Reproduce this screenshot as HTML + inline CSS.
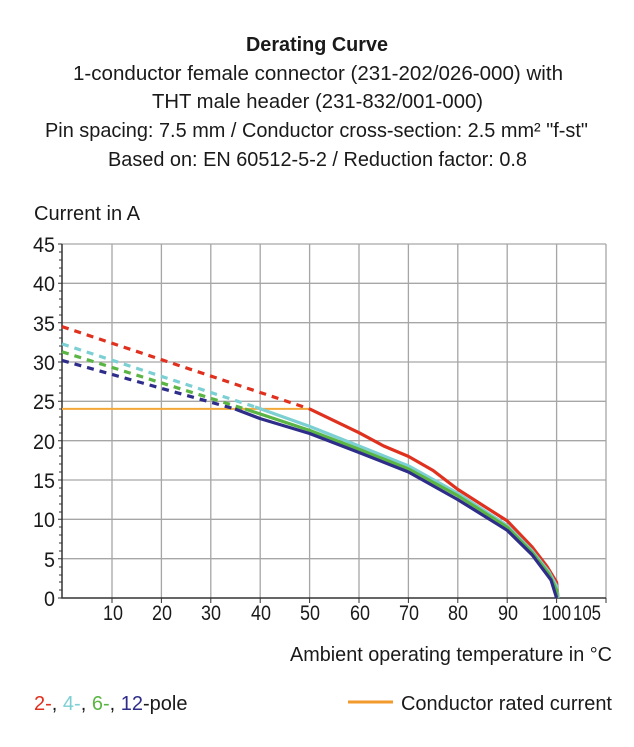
<!DOCTYPE html>
<html><head><meta charset="utf-8"><style>
body{margin:0;background:#fff}
svg text{font-family:"Liberation Sans Narrow","Liberation Sans",sans-serif;fill:#1a1a1a}
</style></head><body>
<svg width="634" height="742" viewBox="0 0 634 742" xmlns="http://www.w3.org/2000/svg">
<g font-size="20">
<text x="246" y="51" font-weight="bold" textLength="142" lengthAdjust="spacingAndGlyphs">Derating Curve</text>
<text x="73" y="80" textLength="490" lengthAdjust="spacingAndGlyphs">1-conductor female connector (231-202/026-000) with</text>
<text x="152" y="108" textLength="331" lengthAdjust="spacingAndGlyphs">THT male header (231-832/001-000)</text>
<text x="45" y="137" textLength="543" lengthAdjust="spacingAndGlyphs">Pin spacing: 7.5 mm / Conductor cross-section: 2.5 mm² "f-st"</text>
<text x="108" y="166" textLength="419" lengthAdjust="spacingAndGlyphs">Based on: EN 60512-5-2 / Reduction factor: 0.8</text>
</g>
<text x="34" y="220" font-size="20" textLength="106" lengthAdjust="spacingAndGlyphs">Current in A</text>
<g stroke="#a6a6a6" stroke-width="1.3" fill="none">
<path d="M112 244V598M161.4 244V598M210.8 244V598M260.2 244V598M309.6 244V598M359 244V598M408.4 244V598M457.8 244V598M507.2 244V598M556.6 244V598M606 244V598"/>
<path d="M62 244H606M62 283.3H606M62 322.7H606M62 362H606M62 401.3H606M62 440.7H606M62 480H606M62 519.3H606M62 558.7H606"/>
</g>
<path d="M62 244V598H606" stroke="#333" stroke-width="1.5" fill="none"/>
<g stroke="#333" stroke-width="1">
<path d="M58 244H62M58 283.3H62M58 322.7H62M58 362H62M58 401.3H62M58 440.7H62M58 480H62M58 519.3H62M58 558.7H62M58 598H62"/>
<path d="M59 252H62M59 260H62M59 268H62M59 276H62M59 291H62M59 299H62M59 307H62M59 315H62M59 330H62M59 338H62M59 346H62M59 354H62M59 370H62M59 378H62M59 386H62M59 393H62M59 409H62M59 417H62M59 425H62M59 433H62M59 448H62M59 456H62M59 464H62M59 472H62M59 488H62M59 496H62M59 504H62M59 512H62M59 527H62M59 535H62M59 543H62M59 551H62M59 567H62M59 575H62M59 582H62M59 590H62"/>
<path d="M112 598V603M161.4 598V603M210.8 598V603M260.2 598V603M309.6 598V603M359 598V603M408.4 598V603M457.8 598V603M507.2 598V603M556.6 598V603M606 598V603"/>
</g>
<g font-size="21" text-anchor="end">
<text x="55" y="252" textLength="22" lengthAdjust="spacingAndGlyphs">45</text><text x="55" y="291" textLength="22" lengthAdjust="spacingAndGlyphs">40</text><text x="55" y="331" textLength="22" lengthAdjust="spacingAndGlyphs">35</text><text x="55" y="370" textLength="22" lengthAdjust="spacingAndGlyphs">30</text><text x="55" y="409" textLength="22" lengthAdjust="spacingAndGlyphs">25</text><text x="55" y="449" textLength="22" lengthAdjust="spacingAndGlyphs">20</text><text x="55" y="488" textLength="22" lengthAdjust="spacingAndGlyphs">15</text><text x="55" y="527" textLength="22" lengthAdjust="spacingAndGlyphs">10</text><text x="55" y="567" textLength="11" lengthAdjust="spacingAndGlyphs">5</text><text x="55" y="606" textLength="11" lengthAdjust="spacingAndGlyphs">0</text>
</g>
<g font-size="21">
<text x="103" y="620" textLength="20" lengthAdjust="spacingAndGlyphs">10</text><text x="152" y="620" textLength="20" lengthAdjust="spacingAndGlyphs">20</text><text x="201" y="620" textLength="20" lengthAdjust="spacingAndGlyphs">30</text><text x="251" y="620" textLength="20" lengthAdjust="spacingAndGlyphs">40</text><text x="300" y="620" textLength="20" lengthAdjust="spacingAndGlyphs">50</text><text x="350" y="620" textLength="20" lengthAdjust="spacingAndGlyphs">60</text><text x="399" y="620" textLength="20" lengthAdjust="spacingAndGlyphs">70</text><text x="448" y="620" textLength="20" lengthAdjust="spacingAndGlyphs">80</text><text x="498" y="620" textLength="20" lengthAdjust="spacingAndGlyphs">90</text><text x="542" y="620" textLength="29" lengthAdjust="spacingAndGlyphs">100</text><text x="573" y="620" textLength="28" lengthAdjust="spacingAndGlyphs">105</text>
</g>
<text x="290" y="661" font-size="20" textLength="322" lengthAdjust="spacingAndGlyphs">Ambient operating temperature in °C</text>
<g fill="none" stroke-width="3.2" stroke-linejoin="round">
<path d="M62 408.9H309.6" stroke="#f5a83a" stroke-width="2"/>
<path d="M62 326.6L309.6 408.9" stroke="#e0301e" stroke-dasharray="7 6"/>
<path d="M62 343.9L255 406.9" stroke="#7ccfd3" stroke-dasharray="7 6"/>
<path d="M62 351.8L245 409" stroke="#5bb544" stroke-dasharray="7 6"/>
<path d="M62 360.4L235 409" stroke="#2e2d8a" stroke-dasharray="7 6"/>
<path d="M309.6 408.9L359 432.7L383.7 446L408.4 456.4L433.1 470.5L457.8 489.4L507.2 520.9L532 546.8L547 566.5L556.6 582.3L558 598" stroke="#e0301e"/>
<path d="M255 406.9L309.6 426.4L359 446L408.4 465.8L457.8 493.3L507.2 525.6L532 550.8L549 572L556.6 586L558 598" stroke="#7ccfd3"/>
<path d="M245 409L309.6 430.4L359 449.3L408.4 468.9L457.8 495.7L507.2 527.2L532 552.4L549 574L556.6 590L557 598" stroke="#5bb544"/>
<path d="M235 409L260.2 418.6L309.6 433.5L359 452.5L408.4 472L457.8 499.6L507.2 530.3L532 554.7L551 580L556.6 598" stroke="#2e2d8a"/>
</g>
<text x="34" y="710" font-size="20"><tspan fill="#e0301e">2-</tspan>, <tspan fill="#7ccfd3">4-</tspan>, <tspan fill="#5bb544">6-</tspan>, <tspan fill="#2e2d8a">12</tspan>-pole</text>
<path d="M348 702H393" stroke="#f39a2c" stroke-width="3"/>
<text x="401" y="710" font-size="20" textLength="211" lengthAdjust="spacingAndGlyphs">Conductor rated current</text>
</svg>
</body></html>
